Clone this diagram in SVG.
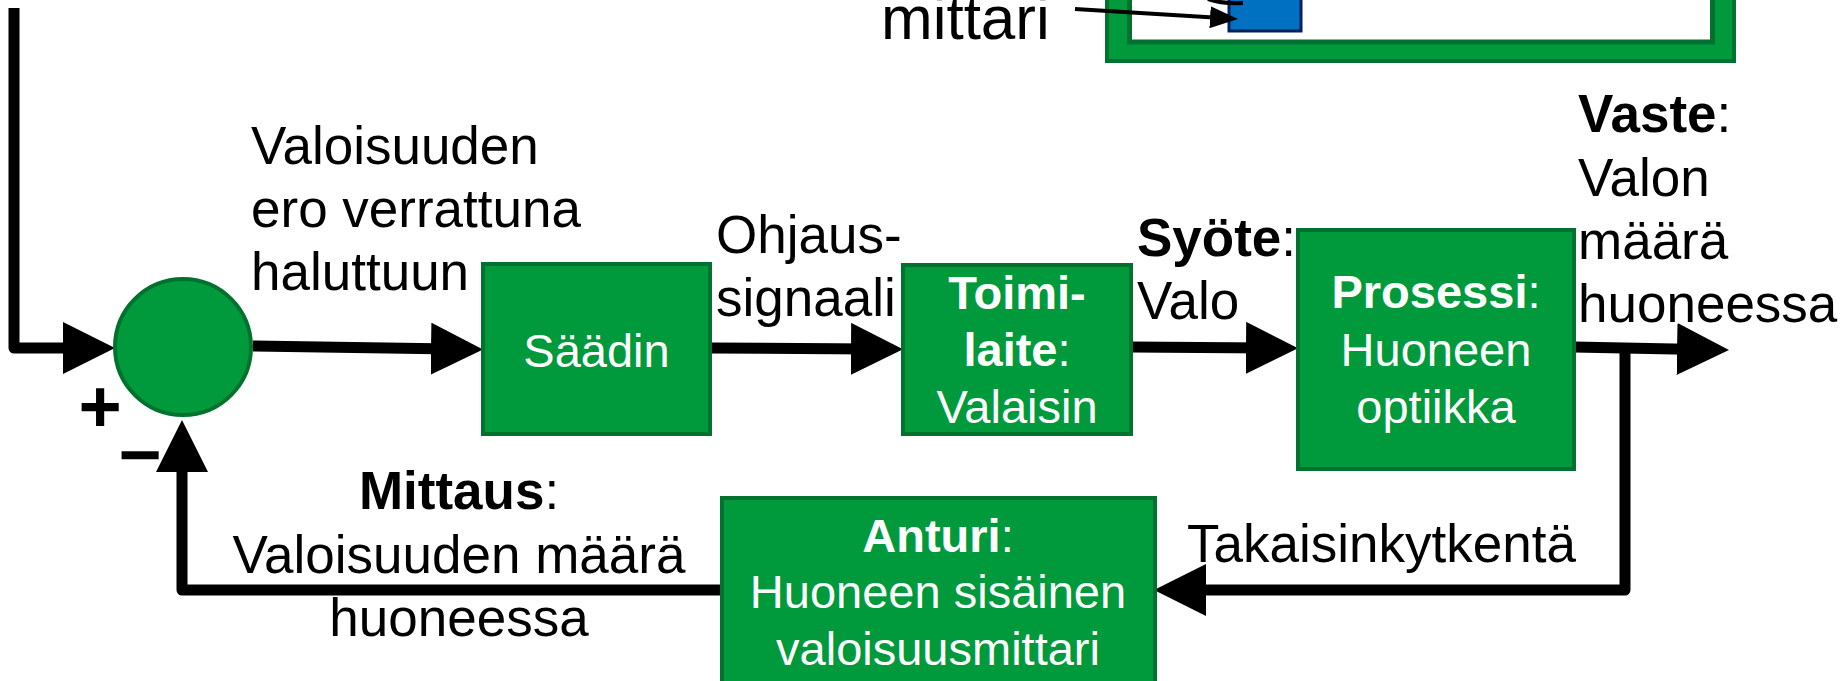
<svg xmlns="http://www.w3.org/2000/svg" width="1846" height="681" viewBox="0 0 1846 681">
<style>
.lbl{font-family:"Liberation Sans",Arial,sans-serif;font-size:53px;fill:#000}
.box{fill:#009A3D;stroke:#00722E;stroke-width:4}
.btxt{font-family:"Liberation Sans",Arial,sans-serif;font-size:47px;fill:#fff;text-anchor:middle}
.b{font-weight:bold}
.con{fill:none;stroke:#000;stroke-width:11;stroke-linejoin:round}
.thin{fill:none;stroke:#000;stroke-width:4}
</style>
<defs>
<marker id="arr" viewBox="0 0 52 52" markerWidth="52" markerHeight="52" markerUnits="userSpaceOnUse" refX="22" refY="26" orient="auto">
<path d="M0,0 L52,26 L0,52 Z" fill="#000"/>
</marker>
<marker id="arrS" viewBox="0 0 28 22" markerWidth="28" markerHeight="22" markerUnits="userSpaceOnUse" refX="20" refY="11" orient="auto">
<path d="M0,0 L28,11 L0,22 Z" fill="#000"/>
</marker>
</defs>

<g id="frame">
<rect x="1107" y="-100" width="627" height="161" fill="#009A3D" stroke="#00722E" stroke-width="4"/>
<rect x="1129.5" y="-100" width="583" height="142" fill="#fff" stroke="#00722E" stroke-width="5"/>
<rect x="1229" y="-20" width="72" height="51" fill="#0070C0" stroke="#002060" stroke-width="3"/>
<path d="M1208,-1 Q1222,4 1243,3" fill="none" stroke="#000" stroke-width="4"/>
<text class="lbl" x="881" y="39" style="font-size:62px">mittari</text>
</g>

<g id="connectors">
<path class="con" d="M14,8 V348 H85" marker-end="url(#arr)"/>
<path class="con" d="M253,346 L453,349" marker-end="url(#arr)"/>
<path class="con" d="M710,348 L873,349" marker-end="url(#arr)"/>
<path class="con" d="M1131,347 L1268,348" marker-end="url(#arr)"/>
<path class="con" d="M1574,347 L1699,349.5" marker-end="url(#arr)"/>
<path class="con" d="M1625,349 V590 H1184" marker-end="url(#arr)"/>
<path class="con" d="M723,590 H182 V450" marker-end="url(#arr)"/>
<path class="thin" d="M1075,9 L1230,18.5" marker-end="url(#arrS)"/>
</g>

<g id="sum">
<circle cx="183" cy="347" r="68" class="box"/>
<text x="100" y="432" font-family="Liberation Sans, Arial, sans-serif" font-size="74" font-weight="bold" text-anchor="middle">+</text>
<text x="140" y="480" font-family="Liberation Sans, Arial, sans-serif" font-size="74" font-weight="bold" text-anchor="middle">−</text>
</g>

<g id="saadin">
<rect class="box" x="483" y="264" width="227" height="170"/>
<text class="btxt" x="596.5" y="367">Säädin</text>
</g>

<g id="toimilaite">
<rect class="box" x="903" y="265" width="228" height="169"/>
<text class="btxt" x="1017" y="309"><tspan class="b">Toimi-</tspan></text>
<text class="btxt" x="1017" y="366"><tspan class="b">laite</tspan>:</text>
<text class="btxt" x="1017" y="423">Valaisin</text>
</g>

<g id="prosessi">
<rect class="box" x="1298" y="230" width="276" height="239"/>
<text class="btxt" x="1436" y="308"><tspan class="b">Prosessi</tspan>:</text>
<text class="btxt" x="1436" y="366">Huoneen</text>
<text class="btxt" x="1436" y="423">optiikka</text>
</g>

<g id="anturi">
<rect class="box" x="722" y="498" width="433" height="200"/>
<text class="btxt" x="938" y="552"><tspan class="b">Anturi</tspan>:</text>
<text class="btxt" x="938" y="608">Huoneen sisäinen</text>
<text class="btxt" x="938" y="665">valoisuusmittari</text>
</g>

<g id="labels">
<text class="lbl" x="251" y="164">Valoisuuden</text>
<text class="lbl" x="251" y="227">ero verrattuna</text>
<text class="lbl" x="251" y="290">haluttuun</text>
<text class="lbl" x="716" y="253">Ohjaus-</text>
<text class="lbl" x="716" y="316">signaali</text>
<text class="lbl" x="1137" y="256"><tspan font-weight="bold">Syöte</tspan>:</text>
<text class="lbl" x="1137" y="319">Valo</text>
<text class="lbl" x="1578" y="132"><tspan font-weight="bold">Vaste</tspan>:</text>
<text class="lbl" x="1578" y="196">Valon</text>
<text class="lbl" x="1578" y="259">määrä</text>
<text class="lbl" x="1578" y="322">huoneessa</text>
<text class="lbl" x="1187" y="562">Takaisinkytkentä</text>
<text class="lbl" x="459" y="509" text-anchor="middle"><tspan font-weight="bold">Mittaus</tspan>:</text>
<text class="lbl" x="459" y="573" text-anchor="middle">Valoisuuden määrä</text>
<text class="lbl" x="459" y="636" text-anchor="middle">huoneessa</text>
</g>
</svg>
